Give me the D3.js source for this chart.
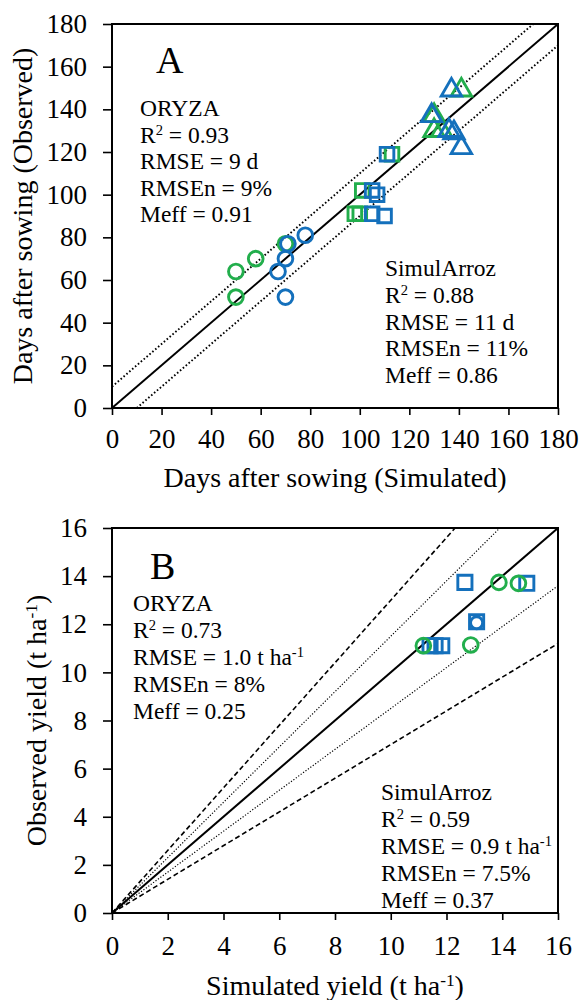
<!DOCTYPE html>
<html>
<head>
<meta charset="utf-8">
<script src="https://cdn.jsdelivr.net/npm/d3@7"></script>
<style>
  body { margin: 0; background: #fff; }
  text { font-family: "Liberation Serif", "Times New Roman", serif; fill: #000; }
</style>
</head>
<body>
<script>
// Colours of the two marker groups
const blue = "#1470BC", green = "#22AE4C";

// Panel A: days after sowing, [simulated, observed]
const daysTicks = [0, 20, 40, 60, 80, 100, 120, 140, 160, 180];
const daysGreenCircles = [[50, 64], [50, 52], [58, 70], [70, 77]];
const daysBlueCircles = [[71, 77], [78, 81], [70, 70], [67, 64], [70, 52]];
const daysGreenSquares = [[113, 119], [101, 102], [98, 91], [100, 91]];
const daysBlueSquares = [[111, 119], [105, 102], [107, 100], [105, 91], [110, 90]];
const daysGreenTriangles = [[141, 149], [130, 137], [130, 130], [133, 130]];
const daysBlueTriangles = [[137, 149], [129, 137], [136, 130], [138, 129], [141, 122]];

// Panel B: yield, t/ha, [simulated, observed]
const yieldTicks = [0, 2, 4, 6, 8, 10, 12, 14, 16];
const yieldGreenCircles = [[13.88, 13.74], [14.58, 13.7], [11.17, 11.11], [12.87, 11.14]];
const yieldBlueSquares = [[12.66, 13.74], [14.88, 13.7], [13.08, 12.1], [11.41, 11.11], [11.59, 11.11], [11.83, 11.11]];
const yieldBlueCircles = [[13.08, 12.06]];

// Statistic boxes, each line is a list of [text, superscript?]
const statsAOryza = [[["ORYZA"]], [["R"], ["2", 1], [" = 0.93"]], [["RMSE = 9 d"]], [["RMSEn = 9%"]], [["Meff = 0.91"]]];
const statsASimul = [[["SimulArroz"]], [["R"], ["2", 1], [" = 0.88"]], [["RMSE = 11 d"]], [["RMSEn = 11%"]], [["Meff = 0.86"]]];
const statsBOryza = [[["ORYZA"]], [["R"], ["2", 1], [" = 0.73"]], [["RMSE = 1.0 t ha"], ["-1", 1]], [["RMSEn = 8%"]], [["Meff = 0.25"]]];
const statsBSimul = [[["SimulArroz"]], [["R"], ["2", 1], [" = 0.59"]], [["RMSE = 0.9 t ha"], ["-1", 1]], [["RMSEn = 7.5%"]], [["Meff = 0.37"]]];

const svg = d3.select("body").append("svg")
    .attr("width", 582)
    .attr("height", 1000);

// Write a line of text with optional superscript parts
function richText(g, parts, x, y, size) {
    let t = g.append("text").attr("x", x).attr("y", y).style("font-size", size + "px");
    parts.forEach(p => {
        let s = t.append("tspan").text(p[0]);
        if (p[1]) s.style("font-size", (size * 0.62) + "px").attr("baseline-shift", "super");
    });
    return t;
}

/**
 * Draw one scatter panel with reference lines
 */
function drawPanel(cfg) {
    let x = d3.scaleLinear().domain([0, cfg.max]).range([112, 558]);
    let y = d3.scaleLinear().domain([0, cfg.max]).range(cfg.yRange);
    let g = svg.append("g");

    // Reference lines
    let line = d3.line().x(d => x(d[0])).y(d => y(d[1]));
    cfg.refLines.forEach(r => {
        g.append("path")
            .datum(r.pts)
            .attr("fill", "none")
            .attr("stroke", "#000")
            .attr("stroke-width", r.w)
            .attr("stroke-dasharray", r.dash)
            .attr("d", line);
    });

    // Markers
    cfg.series.forEach(s => {
        g.selectAll(null)
            .data(s.data)
            .join("path")
            .attr("transform", d => `translate(${x(d[0])},${y(d[1])})`)
            .attr("d", d3.symbol().type(s.type).size(s.size))
            .attr("fill", "none")
            .attr("stroke", s.colour)
            .attr("stroke-width", 2.9);
    });

    // Axes
    let ax = g.append("g")
        .attr("transform", `translate(0,${cfg.yRange[0]})`)
        .call(d3.axisBottom(x).tickValues(cfg.ticks).tickSize(7).tickPadding(cfg.xPad).tickFormat(d3.format("d")));
    let ay = g.append("g")
        .attr("transform", "translate(112,0)")
        .call(d3.axisLeft(y).tickValues(cfg.ticks).tickSize(9).tickPadding(16).tickFormat(d3.format("d")));
    [ax, ay].forEach(a => {
        a.attr("font-family", null).attr("font-size", null);
        a.select(".domain").remove();
        a.selectAll("line").attr("stroke-width", 1.6);
        a.selectAll("text")
            .style("font-family", "'Liberation Serif', 'Times New Roman', serif")
            .style("font-size", "27px");
    });

    // Frame
    g.append("rect")
        .attr("x", 112).attr("y", cfg.yRange[1])
        .attr("width", 446).attr("height", cfg.yRange[0] - cfg.yRange[1])
        .attr("fill", "none").attr("stroke", "#000").attr("stroke-width", 2);

    // Titles
    richText(g, cfg.xTitle, 335, cfg.xTitleY, 28).attr("text-anchor", "middle");
    richText(g, cfg.yTitle, 0, 0, 28)
        .attr("text-anchor", "middle")
        .attr("transform", `translate(${cfg.yTitleX},${(cfg.yRange[0] + cfg.yRange[1]) / 2}) rotate(-90)`);

    g.append("text").attr("x", cfg.letter[1]).attr("y", cfg.letter[2])
        .style("font-size", "38px").text(cfg.letter[0]);

    cfg.stats.forEach(st => {
        st.lines.forEach((l, i) => richText(g, l, st.x, st.y + i * st.dy, 23.5));
    });
}

drawPanel({
    max: 180, ticks: daysTicks, yRange: [408, 24], xPad: 14,
    refLines: [
        {pts: [[0, 0], [180, 180]], w: 2, dash: null},
        {pts: [[0, 10], [170, 180]], w: 1.9, dash: "1.6,2.2"},
        {pts: [[10, 0], [180, 170]], w: 1.9, dash: "1.6,2.2"}
    ],
    series: [
        {data: daysGreenCircles, type: d3.symbolCircle, size: 170, colour: green},
        {data: daysBlueCircles, type: d3.symbolCircle, size: 170, colour: blue},
        {data: daysGreenSquares, type: d3.symbolSquare, size: 185, colour: green},
        {data: daysBlueSquares, type: d3.symbolSquare, size: 185, colour: blue},
        {data: daysGreenTriangles, type: d3.symbolTriangle, size: 180, colour: green},
        {data: daysBlueTriangles, type: d3.symbolTriangle, size: 180, colour: blue}
    ],
    xTitle: [["Days after sowing (Simulated)"]], xTitleY: 487,
    yTitle: [["Days after sowing (Observed)"]], yTitleX: 32,
    letter: ["A", 156, 73],
    stats: [
        {lines: statsAOryza, x: 140, y: 116, dy: 26.5},
        {lines: statsASimul, x: 385, y: 276, dy: 26.8}
    ]
});

drawPanel({
    max: 16, ticks: yieldTicks, yRange: [913, 528], xPad: 16,
    refLines: [
        {pts: [[0, 0], [16, 16]], w: 2, dash: null},
        {pts: [[0, 0], [16 / 1.15, 16]], w: 1.2, dash: "1.2,1.8"},
        {pts: [[0, 0], [16, 16 * 0.85]], w: 1.2, dash: "1.2,1.8"},
        {pts: [[0, 0], [16 / 1.3, 16]], w: 1.6, dash: "5,3"},
        {pts: [[0, 0], [16, 16 * 0.7]], w: 1.6, dash: "5,3"}
    ],
    series: [
        {data: yieldBlueSquares, type: d3.symbolSquare, size: 200, colour: blue},
        {data: yieldBlueCircles, type: d3.symbolCircle, size: 115, colour: blue},
        {data: yieldGreenCircles, type: d3.symbolCircle, size: 170, colour: green}
    ],
    xTitle: [["Simulated yield (t ha"], ["-1", 1], [")"]], xTitleY: 995,
    yTitle: [["Observed yield (t ha"], ["-1", 1], [")"]], yTitleX: 46,
    letter: ["B", 150, 579],
    stats: [
        {lines: statsBOryza, x: 133, y: 611, dy: 27},
        {lines: statsBSimul, x: 381, y: 800, dy: 27}
    ]
});
</script>
</body>
</html>
